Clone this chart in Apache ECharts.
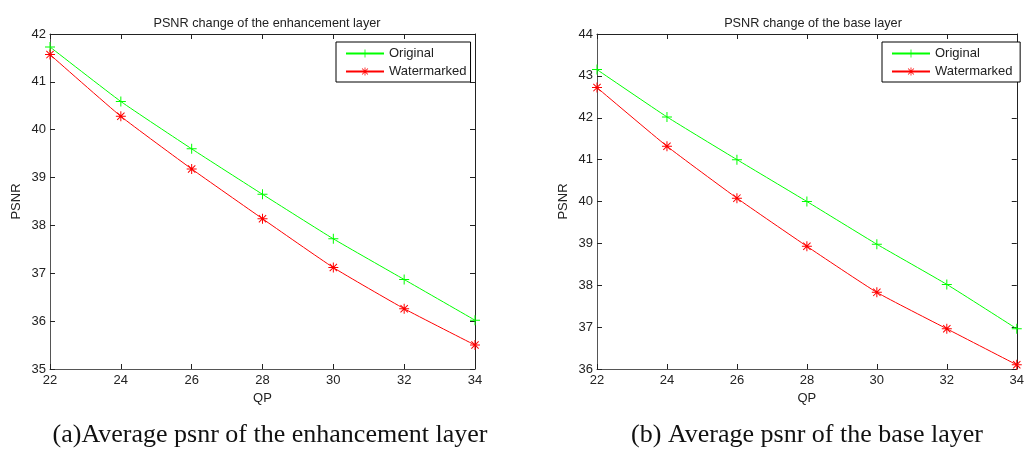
<!DOCTYPE html>
<html>
<head>
<meta charset="utf-8">
<script src="https://cdn.jsdelivr.net/npm/echarts@6/dist/echarts.min.js"></script>
<style>
  html, body { margin: 0; padding: 0; background: #fff; }
  #main { width: 1027px; height: 451px; }
</style>
</head>
<body>
<div id="main"></div>
<script>
var qp = [22, 24, 26, 28, 30, 32, 34]

// enhancement layer
var enhOriginal = [41.73, 40.59, 39.60, 38.65, 37.72, 36.87, 36.02]
var enhWatermarked = [41.57, 40.28, 39.18, 38.14, 37.12, 36.26, 35.50]

// base layer
var baseOriginal = [43.15, 42.02, 41.00, 40.00, 38.98, 38.02, 36.96]
var baseWatermarked = [42.72, 41.32, 40.08, 38.93, 37.83, 36.96, 36.10]

var plusIcon = 'path://M4.5,0h1v10h-1zM0,4.5h10v1h-10z'
var starIcon = 'path://M4.5,0h1v10h-1zM0,4.5h10v1h-10zM1,1.7L1.7,1L9,8.3L8.3,9zM8.3,1L9,1.7L1.7,9L1,8.3z'

function pairs(xs, ys) {
  return xs.map(function (x, i) { return [x, ys[i]] })
}

var tickFont = { fontFamily: 'Liberation Sans, Arial', fontSize: 13, color: '#222' }

function xAxes(gridIndex) {
  return [{
    type: 'value', gridIndex: gridIndex, min: 22, max: 34, interval: 2,
    name: 'QP', nameLocation: 'middle', nameGap: 20,
    nameTextStyle: tickFont,
    axisLine: { lineStyle: { color: '#555' } },
    axisTick: { inside: true, length: 5, lineStyle: { color: '#222' } },
    axisLabel: Object.assign({ margin: 5 }, tickFont),
    splitLine: { show: false }
  }, {
    type: 'value', gridIndex: gridIndex, min: 22, max: 34, interval: 2, position: 'top',
    axisLine: { lineStyle: { color: '#222' } },
    axisTick: { inside: true, length: 5, lineStyle: { color: '#222' } },
    axisLabel: { show: false },
    splitLine: { show: false }
  }]
}

function yAxes(gridIndex, min, max) {
  return [{
    type: 'value', gridIndex: gridIndex, min: min, max: max, interval: 1,
    name: 'PSNR', nameLocation: 'middle', nameGap: 27,
    nameTextStyle: tickFont,
    axisLine: { show: true, lineStyle: { color: '#555' } },
    axisTick: { show: true, inside: true, length: 5, lineStyle: { color: '#222' } },
    axisLabel: Object.assign({ margin: 4 }, tickFont),
    splitLine: { show: false }
  }, {
    type: 'value', gridIndex: gridIndex, min: min, max: max, interval: 1, position: 'right',
    axisLine: { show: true, lineStyle: { color: '#222' } },
    axisTick: { show: true, inside: true, length: 5, lineStyle: { color: '#222' } },
    axisLabel: { show: false },
    splitLine: { show: false }
  }]
}

function lineSeries(name, data, color, icon, xi, yi) {
  return {
    name: name, type: 'line', data: data,
    xAxisIndex: xi, yAxisIndex: yi,
    symbol: icon, symbolSize: 10,
    showAllSymbol: true,
    smooth: 0.15,
    lineStyle: { color: color, width: 1 },
    itemStyle: { color: color },
    emphasis: { disabled: true },
    z: 3
  }
}

var legendCommon = {
  orient: 'vertical',
  backgroundColor: '#fff',
  borderColor: '#000',
  borderWidth: 1,
  borderRadius: 0,
  padding: [5, 4, 4, 9],
  itemWidth: 38,
  itemHeight: 10,
  itemGap: 5,
  textStyle: { fontFamily: 'Liberation Sans, Arial', fontSize: 13, color: '#222' }
}

var chart = echarts.init(document.getElementById('main'))
chart.setOption({
  animation: false,
  title: [{
    text: 'PSNR change of the enhancement layer', left: 262, top: 12, textAlign: 'center',
    textStyle: { fontFamily: 'Liberation Sans, Arial', fontSize: 12.7, fontWeight: 'normal', color: '#222' }
  }, {
    text: 'PSNR change of the base layer', left: 808, top: 12, textAlign: 'center',
    textStyle: { fontFamily: 'Liberation Sans, Arial', fontSize: 12.7, fontWeight: 'normal', color: '#222' }
  }, {
    text: '(a)Average psnr of the enhancement layer', left: 265, top: 417, textAlign: 'center',
    textStyle: { fontFamily: 'Liberation Serif, Times New Roman', fontSize: 26, fontWeight: 'normal', color: '#111' }
  }, {
    text: '(b) Average psnr of the base layer', left: 802, top: 417, textAlign: 'center',
    textStyle: { fontFamily: 'Liberation Serif, Times New Roman', fontSize: 26, fontWeight: 'normal', color: '#111' }
  }],
  legend: [
    Object.assign({ data: ['Original', 'Watermarked'], left: 336, top: 42 }, legendCommon),
    Object.assign({ data: ['Original ', 'Watermarked '], left: 882, top: 42 }, legendCommon)
  ],
  grid: [
    { left: 50, right: 552, top: 34, bottom: 82 },
    { left: 597, right: 6, top: 34, bottom: 82 }
  ],
  xAxis: xAxes(0).concat(xAxes(1)),
  yAxis: yAxes(0, 35, 42).concat(yAxes(1, 36, 44)),
  series: [
    lineSeries('Original', pairs(qp, enhOriginal), '#00ff00', plusIcon, 0, 0),
    lineSeries('Watermarked', pairs(qp, enhWatermarked), '#ff0000', starIcon, 0, 0),
    lineSeries('Original ', pairs(qp, baseOriginal), '#00ff00', plusIcon, 2, 2),
    lineSeries('Watermarked ', pairs(qp, baseWatermarked), '#ff0000', starIcon, 2, 2)
  ]
})
</script>
</body>
</html>
